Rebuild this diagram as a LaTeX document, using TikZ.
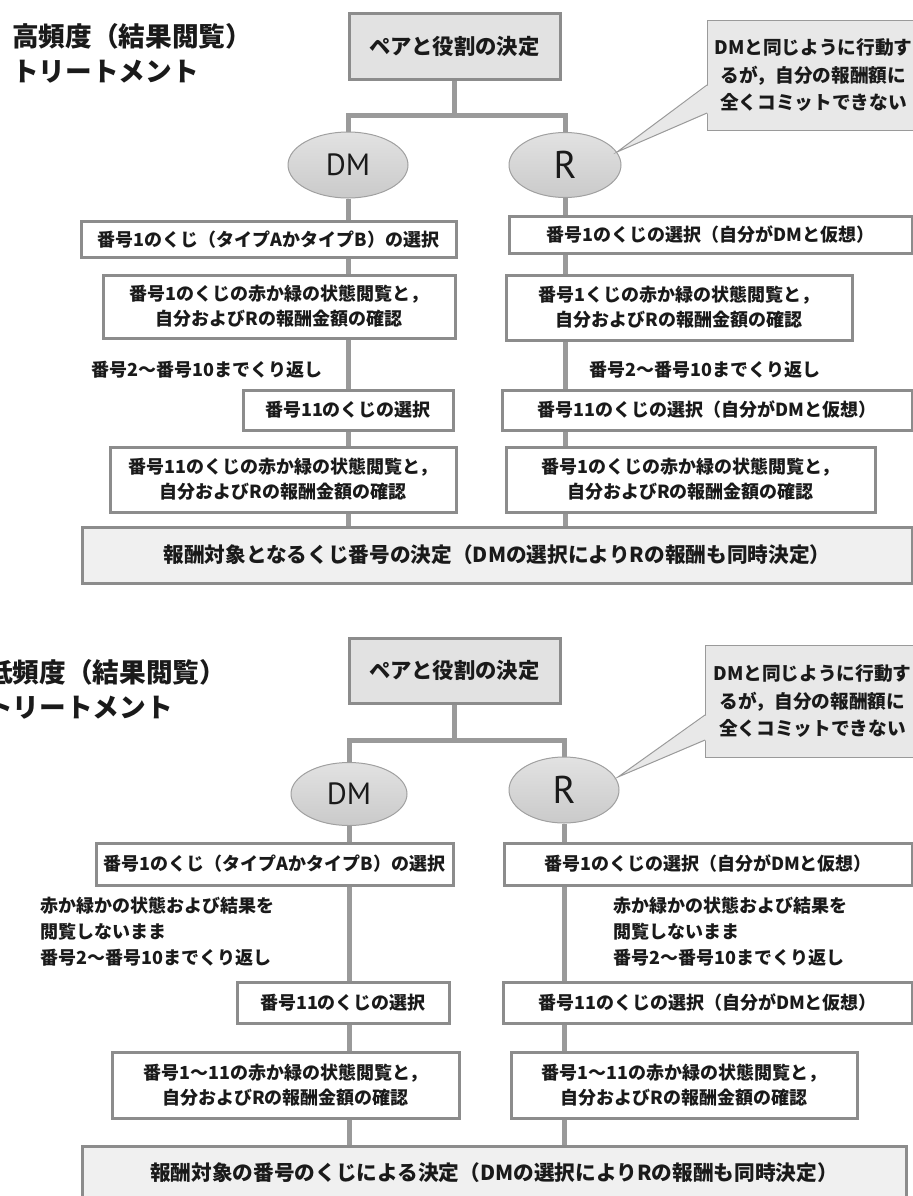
\documentclass[tikz,border=0pt]{standalone}
\usepackage{fontspec}
\setmainfont{Noto Sans CJK JP}
\newfontfamily\latinsans{PT Sans}
\usetikzlibrary{calc,shapes.geometric}
\definecolor{borderg}{HTML}{8C8C8C}
\definecolor{conng}{HTML}{9A9A9A}
\definecolor{pairfill}{HTML}{E2E2E2}
\definecolor{elltop}{HTML}{E2E2E2}
\definecolor{ellbot}{HTML}{CACACA}
\definecolor{ellline}{HTML}{A0A0A0}
\definecolor{finalfill}{HTML}{F0F0F0}
\definecolor{calloutfill}{HTML}{E8E8E8}
\definecolor{calloutline}{HTML}{9A9A9A}
\definecolor{txt}{HTML}{1A1A1A}
\pgfdeclarelayer{bg}
\pgfsetlayers{bg,main}
\begin{document}
\begin{tikzpicture}[x=0.75pt,y=-0.75pt,
  sz/.style 2 args={minimum width=#1*0.75pt, minimum height=#2*0.75pt},
  box/.style={draw=borderg, line width=2.25pt, fill=white, inner sep=0pt, align=center,
    text=txt, font=\fontsize{13.5}{19}\selectfont\bfseries},
  pairbox/.style={box, fill=pairfill, font=\fontsize{16}{20}\selectfont\bfseries},
  finalbox/.style={box, fill=finalfill, font=\fontsize{15.5}{20}\selectfont\bfseries},
  role/.style={ellipse, draw=ellline, line width=0.75pt, top color=elltop, bottom color=ellbot,
    inner sep=0pt, text=txt},
  callout/.style={draw=calloutline, line width=0.75pt, fill=calloutfill, inner sep=0pt,
    align=center, text=txt, font=\fontsize{14}{20.5}\selectfont\bfseries},
  ptr/.style={draw=calloutline, line width=0.75pt},
  title/.style={anchor=west, inner sep=0pt, align=left, text=txt,
    font=\fontsize{20}{26.25}\selectfont\bfseries},
  note/.style={inner sep=0pt, text=txt, font=\fontsize{13.5}{19.5}\selectfont\bfseries},
  conn/.style={draw=conng, line width=3.75pt}
]
\useasboundingbox (0,0) rectangle (913,1196);

% ================= upper panel =================
\node[title] (t1) at (12,53.5) {高頻度（結果閲覧）\\トリートメント};
\node[pairbox, sz={211}{66}] (pair1) at (454.5,46) {ペアと役割の決定};
\node[role, sz={120}{66}, font=\latinsans\fontsize{23}{24}\selectfont] (DM1) at (348,165) {DM};
\node[role, sz={112}{65}, font=\latinsans\fontsize{29}{30}\selectfont] (R1) at (565,165) {R};
\node[callout, sz={213}{110}] (co1) at (813.5,75) {DMと同じように行動す\\るが，自分の報酬額に\\全くコミットできない};
\coordinate (c1a) at (707,85);
\coordinate (c1b) at (707,113);
\coordinate (c1t) at (617,152);
\fill[calloutfill] (708.5,85) -- (c1t) -- (708.5,113) -- cycle;
\draw[ptr] (c1a) -- (c1t) -- (c1b);

\node[box, sz={375}{36}] (A1) at (268.5,239.5) {番号1のくじ（タイプAかタイプB）の選択};
\node[box, sz={352}{63}] (A2) at (279,306.5) {番号1のくじの赤か緑の状態閲覧と，\\自分およびRの報酬金額の確認};
\node[note] (L1) at (207,370) {番号2〜番号10までくり返し};
\node[box, sz={210}{40}] (A3) at (348,410) {番号11のくじの選択};
\node[box, sz={346}{65}] (A4) at (283,479.5) {番号11のくじの赤か緑の状態閲覧と，\\自分およびRの報酬金額の確認};

\node[box, sz={403}{37}] (RA1) at (710.5,235) {番号1のくじの選択（自分がDMと仮想）};
\node[box, sz={346}{65}] (RA2) at (679,307.5) {番号1くじの赤か緑の状態閲覧と，\\自分およびRの報酬金額の確認};
\node[note] (RL1) at (705,370) {番号2〜番号10までくり返し};
\node[box, sz={410}{40}] (RA3) at (707,410) {番号11のくじの選択（自分がDMと仮想）};
\node[box, sz={369}{65}] (RA4) at (690.5,479.5) {番号1のくじの赤か緑の状態閲覧と，\\自分およびRの報酬金額の確認};

\node[finalbox, sz={830}{56}] (F1) at (497,555) {報酬対象となるくじ番号の決定（DMの選択によりRの報酬も同時決定）};

\coordinate (h1) at (455,115);
\begin{pgfonlayer}{bg}
\draw[conn] (pair1.south) -- (pair1.south |- h1);
\draw[conn] (DM1.north) -- (DM1.north |- h1) -- (R1.north |- h1) -- (R1.north);
\draw[conn] (DM1.south) -- (DM1.south |- A1.north);
\draw[conn] (A1.south -| DM1.south) -- (A2.north -| DM1.south);
\draw[conn] (A2.south -| DM1.south) -- (A3.north -| DM1.south);
\draw[conn] (A3.south -| DM1.south) -- (A4.north -| DM1.south);
\draw[conn] (A4.south -| DM1.south) -- (F1.north -| DM1.south);
\draw[conn] (R1.south) -- (R1.south |- RA1.north);
\draw[conn] (RA1.south -| R1.south) -- (RA2.north -| R1.south);
\draw[conn] (RA2.south -| R1.south) -- (RA3.north -| R1.south);
\draw[conn] (RA3.south -| R1.south) -- (RA4.north -| R1.south);
\draw[conn] (RA4.south -| R1.south) -- (F1.north -| R1.south);
\end{pgfonlayer}

% ================= lower panel =================
\node[title] (t2) at (-14,689.5) {低頻度（結果閲覧）\\トリートメント};
\node[pairbox, sz={211}{65}] (pair2) at (454.5,670.5) {ペアと役割の決定};
\node[role, sz={116}{63}, font=\latinsans\fontsize{23}{24}\selectfont] (DM2) at (349,794) {DM};
\node[role, sz={110}{66}, font=\latinsans\fontsize{29}{30}\selectfont] (R2) at (564,790) {R};
\node[callout, sz={215}{112}] (co2) at (812.5,701) {DMと同じように行動す\\るが，自分の報酬額に\\全くコミットできない};
\coordinate (c2a) at (705,715);
\coordinate (c2b) at (705,740);
\coordinate (c2t) at (618,777);
\fill[calloutfill] (706.5,715) -- (c2t) -- (706.5,740) -- cycle;
\draw[ptr] (c2a) -- (c2t) -- (c2b);

\node[box, sz={357}{42}] (B1) at (274.5,864) {番号1のくじ（タイプAかタイプB）の選択};
\node[note, anchor=west, align=left] (LB) at (40,932) {赤か緑かの状態および結果を\\閲覧しないまま\\番号2〜番号10までくり返し};
\node[box, sz={212}{41}] (B3) at (343,1002.5) {番号11のくじの選択};
\node[box, sz={347}{66}] (B4) at (285.5,1085) {番号1〜11の赤か緑の状態閲覧と，\\自分およびRの報酬金額の確認};

\node[box, sz={408}{42}] (RB1) at (708,864) {番号1のくじの選択（自分がDMと仮想）};
\node[note, anchor=west, align=left] (RLB) at (613,932) {赤か緑かの状態および結果を\\閲覧しないまま\\番号2〜番号10までくり返し};
\node[box, sz={409}{41}] (RB3) at (707.5,1002.5) {番号11のくじの選択（自分がDMと仮想）};
\node[box, sz={346}{66}] (RB4) at (684,1085) {番号1〜11の赤か緑の状態閲覧と，\\自分およびRの報酬金額の確認};

\node[finalbox, sz={824}{54}] (F2) at (494,1173) {報酬対象の番号のくじによる決定（DMの選択によりRの報酬も同時決定）};

\coordinate (h2) at (455,740);
\begin{pgfonlayer}{bg}
\draw[conn] (pair2.south) -- (pair2.south |- h2);
\draw[conn] (DM2.north) -- (DM2.north |- h2) -- (R2.north |- h2) -- (R2.north);
\draw[conn] (DM2.south) -- (DM2.south |- B1.north);
\draw[conn] (B1.south -| DM2.south) -- (B3.north -| DM2.south);
\draw[conn] (B3.south -| DM2.south) -- (B4.north -| DM2.south);
\draw[conn] (B4.south -| DM2.south) -- (F2.north -| DM2.south);
\draw[conn] (R2.south) -- (R2.south |- RB1.north);
\draw[conn] (RB1.south -| R2.south) -- (RB3.north -| R2.south);
\draw[conn] (RB3.south -| R2.south) -- (RB4.north -| R2.south);
\draw[conn] (RB4.south -| R2.south) -- (F2.north -| R2.south);
\end{pgfonlayer}
\end{tikzpicture}
\end{document}
